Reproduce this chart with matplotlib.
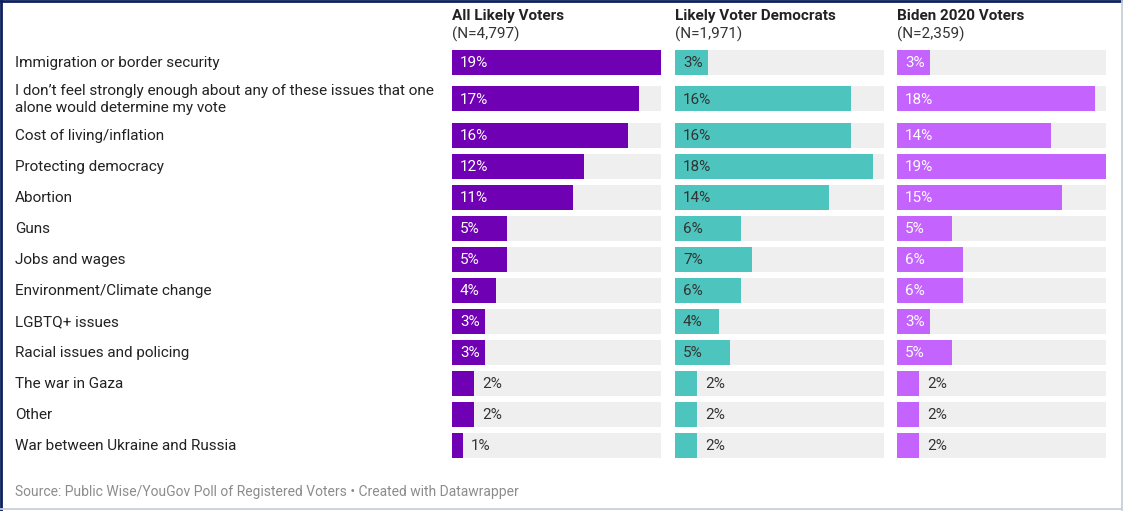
import matplotlib.pyplot as plt
from matplotlib.lines import Line2D

plt.rcParams["font.family"] = ["Roboto", "DejaVu Sans"]

issues = [
    "Immigration or border security",
    "I don\u2019t feel strongly enough about any of these issues that one\nalone would determine my vote",
    "Cost of living/inflation",
    "Protecting democracy",
    "Abortion",
    "Guns",
    "Jobs and wages",
    "Environment/Climate change",
    "LGBTQ+ issues",
    "Racial issues and policing",
    "The war in Gaza",
    "Other",
    "War between Ukraine and Russia",
]
groups = ["All Likely Voters", "Likely Voter Democrats", "Biden 2020 Voters"]
sample_sizes = ["(N=4,797)", "(N=1,971)", "(N=2,359)"]
all_likely = [19, 17, 16, 12, 11, 5, 5, 4, 3, 3, 2, 2, 1]
democrats = [3, 16, 16, 18, 14, 6, 7, 6, 4, 5, 2, 2, 2]
biden_2020 = [3, 18, 14, 19, 15, 5, 6, 6, 3, 5, 2, 2, 2]

W, H = 1123, 511
fig = plt.figure(figsize=(W / 100, H / 100), dpi=100)

# base layer in pixel coordinates for labels, frame and footer
base = fig.add_axes([0, 0, 1, 1])
base.set_xlim(0, W)
base.set_ylim(H, 0)
base.axis("off")

# row centres: two-line rows get extra room
centres = []
y = 62.5
for i, lab in enumerate(issues):
    if i > 0:
        prev_two = "\n" in issues[i - 1]
        cur_two = "\n" in lab
        y += 31 + (5.5 if prev_two else 0) + (5.5 if cur_two else 0)
    centres.append(y)

for lab, yc in zip(issues, centres):
    base.text(15, yc + 0.5, lab, fontsize=11, color="#222222", va="center",
              ha="left", linespacing=1.3)

base.text(15, 492, "Source: Public Wise/YouGov Poll of Registered Voters \u2022 Created with Datawrapper",
          fontsize=10, color="#8c8c8c", va="center", ha="left")

# frame: dark on top/left, pale on bottom/right
base.add_line(Line2D([1, W - 1], [1, 1], color="#0d1f5e", lw=2))
base.add_line(Line2D([1, 1], [1, H - 1], color="#0d1f5e", lw=2))
base.add_line(Line2D([W - 1.5, W - 1.5], [1, H - 1], color="#c9d0db", lw=1.3))
base.add_line(Line2D([1, W - 1], [H - 2, H - 2], color="#c9d0db", lw=1.3))

panels = [
    (all_likely, 452, "#7000b4", "white"),
    (democrats, 675, "#4dc4bd", "#333333"),
    (biden_2020, 897, "#c463fe", "white"),
]
pw = 209
vmax = 19

for (vals, x0, col, inside_col), title, n in zip(panels, groups, sample_sizes):
    ax = fig.add_axes([x0 / W, 0, pw / W, 1])
    ax.set_xlim(0, vmax)
    ax.set_ylim(H, 0)
    ax.axis("off")
    ax.barh(centres, [vmax] * len(vals), height=25, color="#efefef", lw=0)
    ax.barh(centres, vals, height=25, color=col, lw=0)
    px = vmax / pw
    for v, yc in zip(vals, centres):
        if v >= 3:
            ax.text(8 * px, yc + 0.5, f"{v}%", fontsize=11, color=inside_col,
                    va="center", ha="left")
        else:
            ax.text(v + 8 * px, yc + 0.5, f"{v}%", fontsize=11, color="#333333",
                    va="center", ha="left")
    base.text(x0, 16, title, fontsize=11, fontweight="bold", color="#222222",
              va="center", ha="left")
    base.text(x0, 34, n, fontsize=11, color="#333333", va="center", ha="left")

fig.savefig("out.png", dpi=100)
